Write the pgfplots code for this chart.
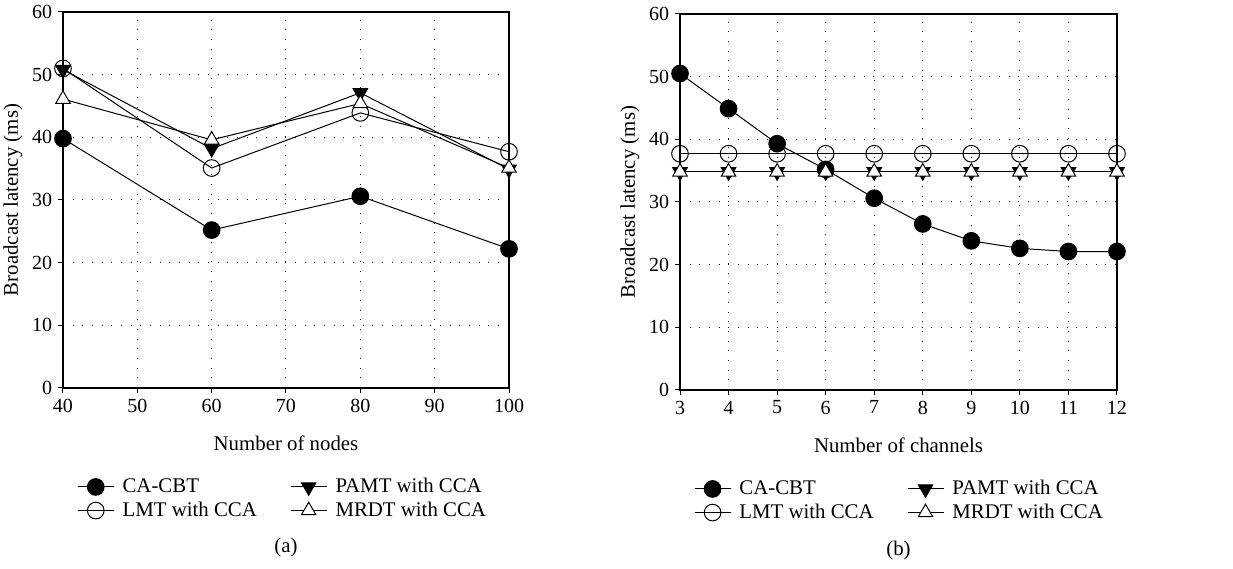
\documentclass[border=0pt]{standalone}
\usepackage{fontspec}
\setmainfont{Liberation Serif}
\usepackage{pgfplots}
\pgfplotsset{compat=1.18}

\pgfplotsset{
  lat/.style={
    scale only axis,
    height=225.6pt,
    ymin=0, ymax=60, ytick={0,10,...,60},
    grid=major,
    major grid style={black, line width=0.6pt, dash pattern=on 0.6pt off 5.2pt},
    tick align=outside, tick pos=left,
    major tick length=3pt,
    axis line style={line width=0.7pt},
    every tick/.style={black, line width=0.6pt},
    tick label style={font=\fontsize{12}{13}\selectfont},
    label style={font=\fontsize{12.5}{14}\selectfont},
    /pgf/number format/assume math mode=true,
    ylabel={Broadcast latency (ms)},
    ylabel style={yshift=-1pt},
    xlabel style={yshift=-7pt},
    legend columns=2, transpose legend,
    legend style={draw=none, fill=none, at={(0.02,-0.222)}, anchor=north west,
      font=\fontsize{12.5}{14}\selectfont, row sep=0pt,
      /tikz/every odd column/.append style={column sep=3pt},
      /tikz/every even column/.append style={column sep=18pt}},
    legend cell align=left,
    legend image code/.code={
      \draw[mark repeat=2, mark phase=2] plot coordinates {(0pt,0pt) (10.8pt,0pt) (21.6pt,0pt)};
    },
  },
  s/.style={black, line width=0.6pt, mark size=5pt, mark options={solid, line width=0.6pt}},
}

\begin{document}
\begin{tikzpicture}
\useasboundingbox (-37.8pt,-108.6pt) rectangle (702pt,232.8pt);
\begin{axis}[lat, name=A, width=267.6pt, xmin=40, xmax=100, xtick={40,50,...,100},
    xlabel={Number of nodes}]
\addplot[s, mark=*, mark options={fill=black}] coordinates {(40,39.8) (60,25.2) (80,30.6) (100,22.2)};
\addplot[s, mark=o, mark options={fill=white}] coordinates {(40,51.0) (60,35.1) (80,43.9) (100,37.7)};
\addplot[s, mark=triangle*, mark options={fill=black, rotate=180}] coordinates {(40,50.8) (60,38.2) (80,47.1) (100,34.9)};
\addplot[s, mark=triangle*, mark options={fill=white}] coordinates {(40,46.1) (60,39.6) (80,45.4) (100,35.1)};
\legend{CA-CBT, LMT with CCA, PAMT with CCA, MRDT with CCA}
\end{axis}
\begin{axis}[lat, name=B, xshift=370.2pt, yshift=-1.2pt, width=262.2pt, xmin=3, xmax=12, xtick={3,...,12},
    xlabel={Number of channels}]
\addplot[s, mark=*, mark options={fill=black}] coordinates {(3,50.5) (4,44.9) (5,39.3) (6,35.2) (7,30.6) (8,26.5) (9,23.8) (10,22.6) (11,22.1) (12,22.1)};
\addplot[s, mark=o, mark options={fill=white}] coordinates {(3,37.7) (4,37.7) (5,37.7) (6,37.7) (7,37.7) (8,37.7) (9,37.7) (10,37.7) (11,37.7) (12,37.7)};
\addplot[s, mark=triangle*, mark options={fill=black, rotate=180}] coordinates {(3,34.8) (4,34.8) (5,34.8) (6,34.8) (7,34.8) (8,34.8) (9,34.8) (10,34.8) (11,34.8) (12,34.8)};
\addplot[s, mark=triangle*, mark options={fill=white}] coordinates {(3,34.8) (4,34.8) (5,34.8) (6,34.8) (7,34.8) (8,34.8) (9,34.8) (10,34.8) (11,34.8) (12,34.8)};
\legend{CA-CBT, LMT with CCA, PAMT with CCA, MRDT with CCA}
\end{axis}
\node[font=\fontsize{12.5}{14}\selectfont] at ([yshift=-96pt]A.south) {(a)};
\node[font=\fontsize{12.5}{14}\selectfont] at ([yshift=-96pt]B.south) {(b)};
\end{tikzpicture}
\end{document}
